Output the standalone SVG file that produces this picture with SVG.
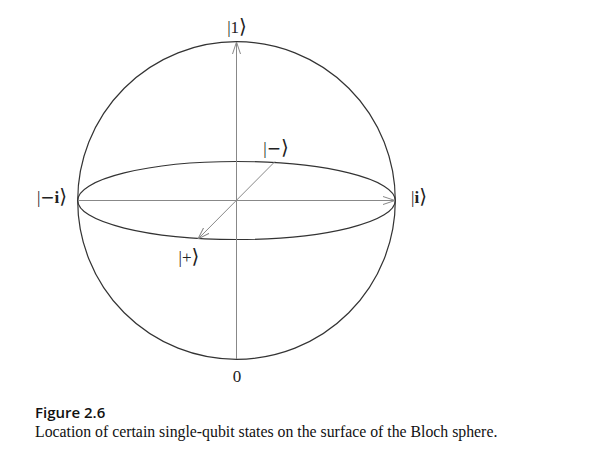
<svg xmlns="http://www.w3.org/2000/svg" width="593" height="462" viewBox="0 0 593 462">
<style>
.sphere{fill:none;stroke:#333;stroke-width:1.2}
.axis{fill:none;stroke:#888;stroke-width:1}
.lbl{font-family:"Liberation Serif",serif;font-size:17px;fill:#222}
.br{font-family:"DejaVu Sans",sans-serif;font-weight:normal}
.ab{font-family:"DejaVu Sans",sans-serif;font-weight:normal;font-size:20px}
.ttl{font-family:"Open Sans","Liberation Sans",sans-serif;font-weight:600;font-size:15px;fill:#111}
.cap{font-family:"Liberation Serif",serif;font-size:15.8px;fill:#111}
</style>
<defs>
<marker id="arr" viewBox="0 0 12 10" refX="12" refY="5" markerWidth="12" markerHeight="10" markerUnits="userSpaceOnUse" orient="auto">
<path d="M0,1 L12,5 L0,9" fill="none" stroke="#888" stroke-width="1"/>
</marker>
</defs>
<g id="sphere">
<circle class="sphere" cx="236.5" cy="200.5" r="158.8"/>
<ellipse class="sphere" cx="236.5" cy="200.5" rx="158.8" ry="39"/>
</g>
<g id="connectors">
<line class="axis" x1="236.5" y1="359" x2="236.5" y2="42" marker-end="url(#arr)"/>
<line class="axis" x1="78" y1="200.5" x2="395" y2="200.5" marker-end="url(#arr)"/>
<line class="axis" x1="275" y1="161.5" x2="198" y2="239" marker-end="url(#arr)"/>
</g>
<g id="label-1"><text class="lbl" x="237" y="33" text-anchor="middle">|1<tspan class="ab">⟩</tspan></text></g>
<g id="label-minus"><text class="lbl" x="276" y="154" text-anchor="middle">|<tspan class="br">−</tspan><tspan class="ab">⟩</tspan></text></g>
<g id="label-plus"><text class="lbl" x="189" y="263" text-anchor="middle">|+<tspan class="ab">⟩</tspan></text></g>
<g id="label-minus-i"><text class="lbl" x="52" y="203" text-anchor="middle">|<tspan class="br">−</tspan><tspan font-weight="bold">i</tspan><tspan class="ab">⟩</tspan></text></g>
<g id="label-i"><text class="lbl" x="419" y="203" text-anchor="middle">|<tspan font-weight="bold">i</tspan><tspan class="ab">⟩</tspan></text></g>
<g id="label-0"><text class="lbl" x="237" y="382" text-anchor="middle">0</text></g>
<g id="caption">
<text class="ttl" x="35" y="418">Figure 2.6</text>
<text class="cap" x="35" y="437">Location of certain single-qubit states on the surface of the Bloch sphere.</text>
</g>
</svg>
